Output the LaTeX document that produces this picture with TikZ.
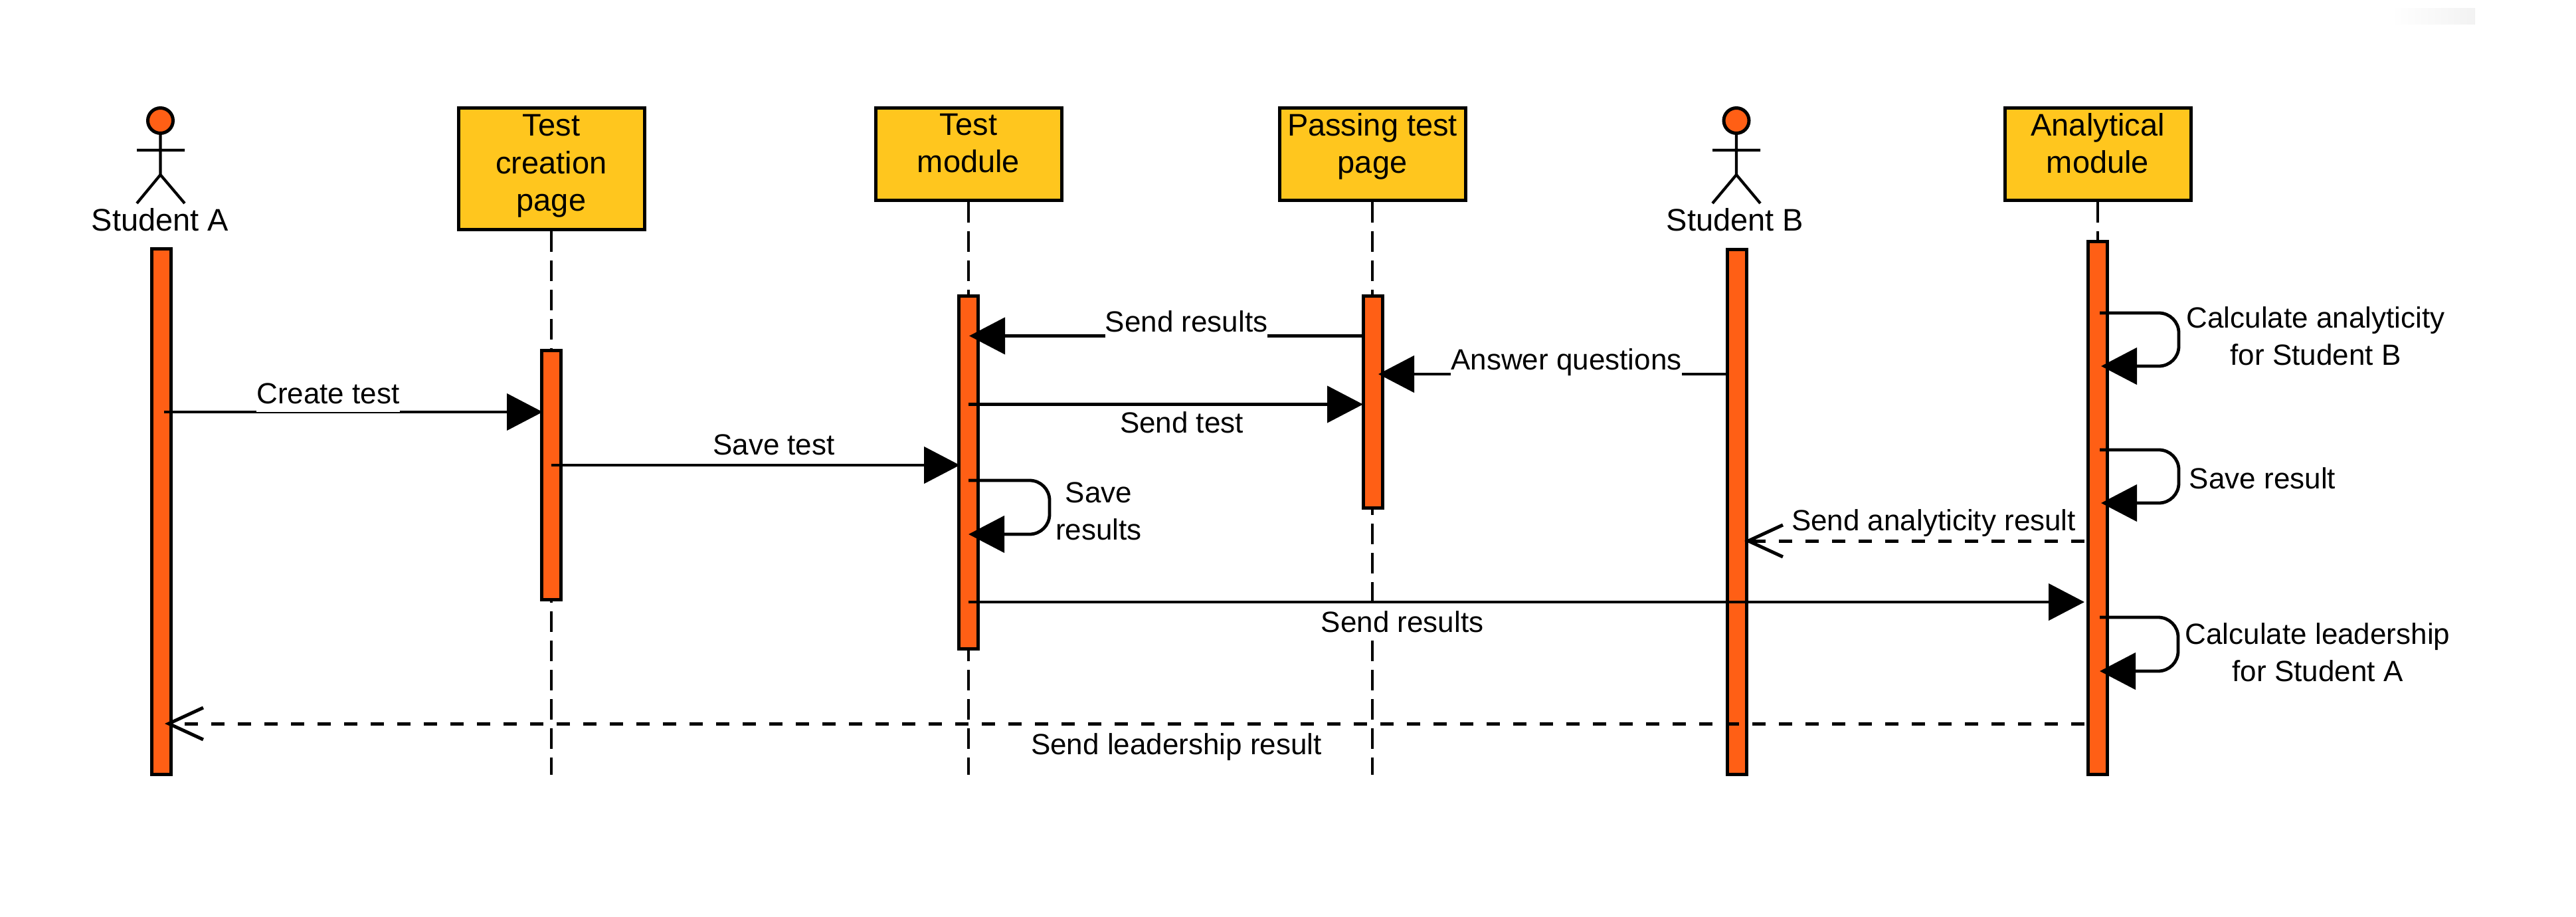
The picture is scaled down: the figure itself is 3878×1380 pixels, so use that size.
\documentclass[tikz,border=0pt]{standalone}
\usepackage{fontspec}
\setmainfont{Liberation Sans}
\usetikzlibrary{arrows.meta,shapes.geometric}
\definecolor{barfill}{HTML}{FF5F15}
\definecolor{boxfill}{HTML}{FFC61E}
\tikzset{
  wd/.style={minimum width={#1*0.25pt}},
  ht/.style={minimum height={#1*0.25pt}},
  objbox/.style={draw=black,fill=boxfill,line width=1.25pt,inner sep=0pt,align=center,
    font=\fontsize{11.75pt}{14.1pt}\selectfont,minimum width=70pt},
  actbar/.style={draw=black,fill=barfill,line width=1.25pt,inner sep=0pt,minimum width=7.25pt},
  lifeline/.style={line width=1.05pt,dash pattern=on 7.8pt off 3.2pt},
  msg/.style={line width=1.2pt,-{Triangle[length=13.5pt,width=13.75pt]}},
  reply/.style={line width=1.25pt,dash pattern=on 5pt off 5pt,-{Straight Barb[length=13pt,width=12pt]}},
  loopmsg/.style={msg,rounded corners=7.5pt},
  msglabel/.style={anchor=base,fill=white,inner sep=0pt,text height=9.5pt,text depth=3.25pt,
    font=\fontsize{11pt}{14pt}\selectfont},
  sidelabel/.style={align=center,inner sep=0pt,font=\fontsize{11pt}{14pt}\selectfont},
  actorhead/.style={draw=black,fill=barfill,line width=1.25pt,circle,inner sep=0pt,minimum size=9.5pt},
  actorline/.style={line width=1.05pt},
  actorname/.style={anchor=base,inner sep=0pt,font=\fontsize{11.75pt}{14pt}\selectfont}
}
\begin{document}
\begin{tikzpicture}[x=0.25pt,y=-0.25pt]
\useasboundingbox (0,0) rectangle (3878,1380);
\shade[left color=white,right color=black!5,draw=none] (3600,13) rectangle (3726,37);

% object boxes
\node[objbox,ht=183,text depth=4.5pt] (tc) at (830,254) {Test\\creation\\page};
\node[objbox,ht=139,text depth=8.25pt] (tm) at (1458,232) {Test\\module};
\node[objbox,ht=139,text depth=8.25pt] (pt) at (2066,232) {Passing test\\page};
\node[objbox,ht=139,text depth=8.25pt] (am) at (3158,232) {Analytical\\module};

% lifeline ends
\coordinate (tcend) at (830,1166);
\coordinate (tmend) at (1458,1166);
\coordinate (ptend) at (2066,1166);
\draw[lifeline] (tc.south) -- (tcend);
\draw[lifeline] (tm.south) -- (tmend);
\draw[lifeline] (pt.south) -- (ptend);
\draw[lifeline] (am.south) -- (3158,361);

% activation bars
\node[actbar,ht=791] (sabar) at (242.5,770) {};
\node[actbar,ht=375] (tcbar) at (830,715) {};
\node[actbar,ht=531] (tmbar) at (1458,711) {};
\node[actbar,ht=319] (ptbar) at (2066.5,605) {};
\node[actbar,ht=790] (sbbar) at (2614.5,770.5) {};
\node[actbar,ht=802] (ambar) at (3158,764.5) {};

% actor A
\node[actorhead] (sahead) at (241.5,181.5) {};
\coordinate (saarml) at (206,226);
\coordinate (saarmr) at (278,226);
\coordinate (sahip) at (241.5,263);
\coordinate (salegl) at (206,306);
\coordinate (salegr) at (278,306);
\draw[actorline] (sahead.south) -- (sahip) (saarml) -- (saarmr) (salegl) -- (sahip) -- (salegr);
\node[actorname] (saname) at (241,348) {Student A};

% actor B
\node[actorhead] (sbhead) at (2614,181.5) {};
\coordinate (sbarml) at (2578,226);
\coordinate (sbarmr) at (2650,226);
\coordinate (sbhip) at (2614,263);
\coordinate (sblegl) at (2578,306);
\coordinate (sblegr) at (2650,306);
\draw[actorline] (sbhead.south) -- (sbhip) (sbarml) -- (sbarmr) (sblegl) -- (sbhip) -- (sblegr);
\node[actorname] (sbname) at (2612,348) {Student B};

% message end points
\coordinate (m1a) at (247,620);   \coordinate (m1b) at (817,620);
\coordinate (m2a) at (830,700);   \coordinate (m2b) at (1445,700);
\coordinate (m3a) at (2052,505.5);\coordinate (m3b) at (1459,505.5);
\coordinate (m4a) at (2601,563);  \coordinate (m4b) at (2075,563);
\coordinate (m5a) at (1458,608.5);\coordinate (m5b) at (2052,608.5);
\coordinate (m6a) at (1458,906);  \coordinate (m6b) at (3138,906);
\coordinate (m7a) at (3138,814);  \coordinate (m7b) at (2626,814);
\coordinate (m8a) at (3138,1089); \coordinate (m8b) at (248,1089);
\coordinate (l1a) at (1458,723);  \coordinate (l1c) at (1580,804);  \coordinate (l1b) at (1458,804);
\coordinate (l2a) at (3161,471);  \coordinate (l2c) at (3280,551);  \coordinate (l2b) at (3163,551);
\coordinate (l3a) at (3161,677);  \coordinate (l3c) at (3280,757);  \coordinate (l3b) at (3163,757);
\coordinate (l4a) at (3161,929);  \coordinate (l4c) at (3279,1010); \coordinate (l4b) at (3161,1010);

% messages
\draw[msg] (m1a) -- (m1b);
\draw[msg] (m2a) -- (m2b);
\draw[msg] (m3a) -- (m3b);
\draw[msg] (m4a) -- (m4b);
\draw[msg] (m5a) -- (m5b);
\draw[msg] (m6a) -- (m6b);
\draw[reply] (m7a) -- (m7b);
\draw[reply] (m8a) -- (m8b);
\draw[loopmsg] (l1a) -| (l1c) -- (l1b);
\draw[loopmsg] (l2a) -| (l2c) -- (l2b);
\draw[loopmsg] (l3a) -| (l3c) -- (l3b);
\draw[loopmsg] (l4a) -| (l4c) -- (l4b);

% message labels
\node[msglabel] (t1) at (494,607) {Create test};
\node[msglabel] (t2) at (1165,684) {Save test};
\node[msglabel] (t3) at (1786,499) {Send results};
\node[msglabel] (t4) at (2358,556) {Answer questions};
\node[msglabel] (t5) at (1779,651) {Send test};
\node[msglabel] (t6) at (2111,951) {Send results};
\node[msglabel] (t7) at (2911,798) {Send analyticity result};
\node[msglabel] (t8) at (1771,1135) {Send leadership result};
\node[sidelabel] (t9) at (1654,769) {Save\\results};
\node[sidelabel] (t10) at (3486,506) {Calculate analyticity\\for Student B};
\node[sidelabel] (t11) at (3406,720) {Save result};
\node[sidelabel] (t12) at (3489,982) {Calculate leadership\\for Student A};
\end{tikzpicture}
\end{document}
